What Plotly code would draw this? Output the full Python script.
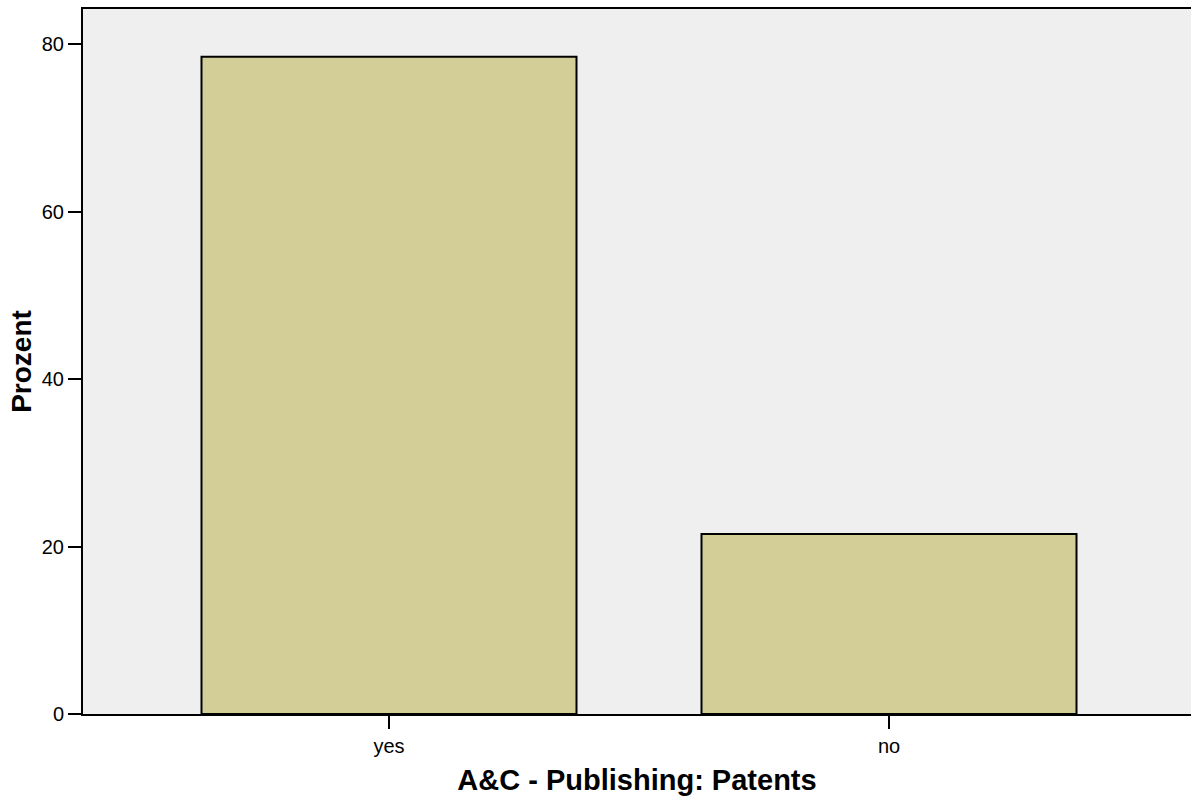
import plotly.graph_objects as go

categories = ["yes", "no"]
percent = [78.5, 21.5]

fig = go.Figure()
fig.add_trace(go.Bar(
    x=categories, y=percent, width=0.75,
    marker=dict(color="#D3CE98", line=dict(color="black", width=2)),
))

fig.update_layout(
    width=1191, height=802,
    margin=dict(l=83, r=0, t=9, b=88),
    paper_bgcolor="white", plot_bgcolor="#EFEFEF",
    showlegend=False,
    font=dict(family="Liberation Sans, Arial, sans-serif", color="black"),
)
fig.update_xaxes(
    range=[-0.612, 1.604], showline=True, linecolor="black", linewidth=2, mirror=True,
    ticks="outside", ticklen=13, tickwidth=2, tickcolor="black",
    tickfont=dict(size=20), showgrid=False,
    title=dict(text="<b>A&C - Publishing: Patents</b>", font=dict(size=29), standoff=14),
)
fig.update_yaxes(
    range=[0, 84.2], tickvals=[0, 20, 40, 60, 80], showline=True, linecolor="black", linewidth=2,
    ticks="outside", ticklen=13, tickwidth=2, tickcolor="black",
    tickfont=dict(size=20), showgrid=False, zeroline=False,
    title=dict(text="<b>Prozent</b>", font=dict(size=28), standoff=2),
)
fig.write_html("out.html", config={"displayModeBar": False},
               post_script="document.body.style.margin='0';document.body.style.overflow='hidden';")
